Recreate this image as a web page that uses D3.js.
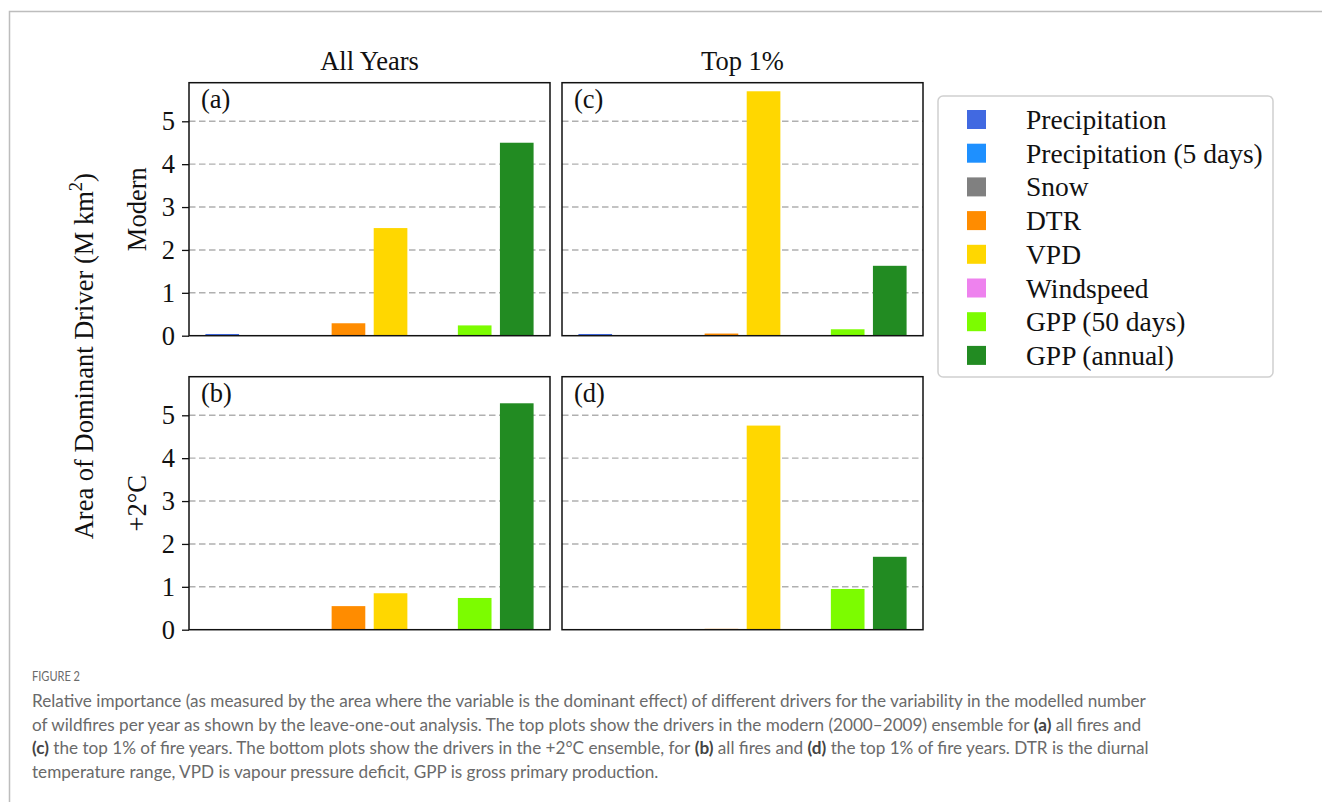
<!DOCTYPE html>
<html>
<head>
<meta charset="utf-8">
<script src="https://cdn.jsdelivr.net/npm/d3@7"></script>
<style>
  html, body { margin: 0; padding: 0; background: #fff; }
  svg { display: block; }
</style>
</head>
<body>
<svg id="chart" width="1322" height="802"></svg>
<script>
// Drivers, in plotting order, with their bar colours
const drivers = ["Precipitation", "Precipitation (5 days)", "Snow", "DTR", "VPD", "Windspeed", "GPP (50 days)", "GPP (annual)"];
const driverColors = ["#4169e1", "#1e90ff", "#808080", "#ff8c00", "#ffd700", "#ee82ee", "#7cfc00", "#228b22"];

// Area of dominant driver (M km²) per panel
const modernAll  = [0.04, 0, 0, 0.29, 2.51, 0, 0.24, 4.50];   // (a)
const modernTop  = [0.04, 0, 0, 0.05, 5.70, 0, 0.15, 1.63];   // (c)
const warmAll    = [0, 0, 0, 0.55, 0.85, 0, 0.74, 5.28];      // (b)
const warmTop    = [0, 0, 0, 0.02, 4.76, 0, 0.95, 1.70];      // (d)

const yTicks = [0, 1, 2, 3, 4, 5];
const columnTitles = ["All Years", "Top 1%"];
const rowTitles = ["Modern", "+2°C"];

const svg = d3.select("#chart");
const serif = "'Liberation Serif', 'Times New Roman', serif";
const fs = 26.5;
const fsLegend = 27.5;

// page frame
svg.append("path")
  .attr("d", "M9.5,802 L9.5,11.5 L1322,11.5")
  .attr("fill", "none").attr("stroke", "#bdbdbd").attr("stroke-width", 1.5);

const colX = [189, 562];
const rowY = [82.7, 376.7];
const pw = 361, ph = 253;

const x = d3.scaleLinear().domain([-0.79, drivers.length - 1 + 0.79]).range([0, pw]);
const y = d3.scaleLinear().domain([0, 5.9]).range([ph, 0]);
const barW = x(0.8) - x(0);

const panels = [
  { id: "(a)", r: 0, c: 0, v: modernAll },
  { id: "(c)", r: 0, c: 1, v: modernTop },
  { id: "(b)", r: 1, c: 0, v: warmAll },
  { id: "(d)", r: 1, c: 1, v: warmTop }
];

panels.forEach(p => {
  const g = svg.append("g").attr("transform", `translate(${colX[p.c]},${rowY[p.r]})`);

  // dashed horizontal grid
  g.selectAll("line.grid").data(yTicks.filter(t => t > 0)).join("line")
    .attr("class", "grid")
    .attr("x1", 0).attr("x2", pw)
    .attr("y1", d => y(d)).attr("y2", d => y(d))
    .attr("stroke", "#b0b0b0").attr("stroke-width", 1.4)
    .attr("stroke-dasharray", "6.5,3.5");

  g.selectAll("rect.bar").data(p.v).join("rect")
    .attr("class", "bar")
    .attr("x", (d, i) => x(i) - barW / 2)
    .attr("width", barW)
    .attr("y", d => y(d))
    .attr("height", d => y(0) - y(d))
    .attr("fill", (d, i) => driverColors[i]);

  // frame
  g.append("rect").attr("x", 0).attr("y", 0).attr("width", pw).attr("height", ph)
    .attr("fill", "none").attr("stroke", "#111").attr("stroke-width", 1.5);

  if (p.c === 0) {
    const ax = g.append("g").call(d3.axisLeft(y).tickValues(yTicks).tickFormat(d3.format("d")).tickSize(7).tickPadding(7));
    ax.select(".domain").remove();
    ax.selectAll("line").attr("stroke", "#111").attr("stroke-width", 1.3);
    ax.selectAll("text").attr("font-family", serif).attr("font-size", fs).attr("fill", "#111");
  }

  g.append("text").attr("x", 12).attr("y", 25)
    .attr("font-family", serif).attr("font-size", fs).attr("fill", "#111")
    .text(p.id);
});

// column titles
columnTitles.forEach((t, i) => {
  svg.append("text").attr("x", colX[i] + pw / 2).attr("y", 70)
    .attr("text-anchor", "middle").attr("font-family", serif).attr("font-size", fs).attr("fill", "#111")
    .text(t);
});

// row titles
rowTitles.forEach((t, i) => {
  const cy = rowY[i] + ph / 2;
  svg.append("text").attr("transform", `translate(146,${cy}) rotate(-90)`)
    .attr("text-anchor", "middle").attr("font-family", serif).attr("font-size", fs).attr("fill", "#111")
    .text(t);
});

// shared y label
const yl = svg.append("text").attr("transform", `translate(93,${(rowY[0] + rowY[1] + ph) / 2}) rotate(-90)`)
  .attr("text-anchor", "middle").attr("font-family", serif).attr("font-size", fs).attr("fill", "#111");
yl.append("tspan").text("Area of Dominant Driver (M km");
yl.append("tspan").attr("font-size", fs * 0.7).attr("dy", -11).text("2");
yl.append("tspan").attr("dy", 11).text(")");

// legend
const lg = svg.append("g").attr("transform", "translate(938,96)");
lg.append("rect").attr("x", 0).attr("y", 0).attr("width", 335).attr("height", 281)
  .attr("rx", 5).attr("fill", "#fff").attr("stroke", "#d0d0d0").attr("stroke-width", 1.5);
const rows = lg.selectAll("g.item").data(drivers).join("g")
  .attr("class", "item")
  .attr("transform", (d, i) => `translate(0,${23.5 + i * 33.7})`);
rows.append("rect").attr("x", 29).attr("y", -9.5).attr("width", 19).attr("height", 19)
  .attr("fill", (d, i) => driverColors[i]);
rows.append("text").attr("x", 88).attr("y", 9.5)
  .attr("font-family", serif).attr("font-size", fsLegend).attr("fill", "#111")
  .text(d => d);

// caption
const sans = "Lato, 'Open Sans', sans-serif";
svg.append("text").attr("x", 32).attr("y", 681)
  .attr("font-family", sans).attr("font-size", 14).attr("fill", "#6a6a6a")
  .attr("textLength", 48).attr("lengthAdjust", "spacingAndGlyphs")
  .text("FIGURE 2");

const captionLines = [
  [["Relative importance (as measured by the area where the variable is the dominant effect) of different drivers for the variability in the modelled number", false]],
  [["of wildfires per year as shown by the leave-one-out analysis. The top plots show the drivers in the modern (2000–2009) ensemble for ", false], ["(a)", true], [" all fires and", false]],
  [["(c)", true], [" the top 1% of fire years. The bottom plots show the drivers in the +2°C ensemble, for ", false], ["(b)", true], [" all fires and ", false], ["(d)", true], [" the top 1% of fire years. DTR is the diurnal", false]],
  [["temperature range, VPD is vapour pressure deficit, GPP is gross primary production.", false]]
];

// size the caption font so the first line spans the text block width
const probe = svg.append("text").attr("font-family", sans).attr("font-size", 18).text(captionLines[0][0][0]);
const capFs = 18 * 1115 / probe.node().getComputedTextLength();
probe.remove();

captionLines.forEach((parts, i) => {
  let cx = 32;
  const yy = 707 + i * 23.7;
  parts.forEach(([s, b]) => {
    const lead = s.startsWith(" ");
    const trail = s.endsWith(" ");
    const t = svg.append("text").attr("x", cx).attr("y", yy)
      .attr("font-family", sans).attr("font-size", capFs)
      .attr("font-weight", b ? 700 : 400).attr("fill", b ? "#444" : "#6a6a6a")
      .attr("xml:space", "preserve")
      .style("white-space", "pre")
      .text(s.trim());
    const space = capFs * 0.26;
    if (lead) { t.attr("x", cx + space); cx += space; }
    cx += t.node().getComputedTextLength();
    if (trail) cx += space;
  });
});
</script>
</body>
</html>
